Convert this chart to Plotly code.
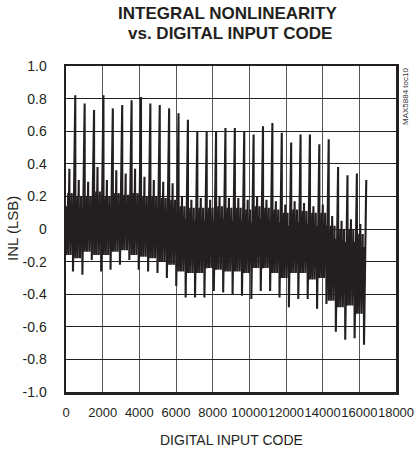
import plotly.graph_objects as go

# ---------------- data ----------------
TITLE_LINES = ["INTEGRAL NONLINEARITY", "vs. DIGITAL INPUT CODE"]
X_TICKS = [0, 2000, 4000, 6000, 8000, 10000, 12000, 14000, 16000, 18000]
Y_TICKS = [-1.0, -0.8, -0.6, -0.4, -0.2, 0.0, 0.2, 0.4, 0.6, 0.8, 1.0]
Y_TICK_LABELS = ["-1.0", "-0.8", "-0.6", "-0.4", "-0.2", "0", "0.2", "0.4", "0.6", "0.8", "1.0"]

SEGMENT_CODES = 512          # one major sawtooth period (32 periods over 16384 codes)

# tall spike at the end of each period
PEAK = [0.82, 0.77, 0.73, 0.82, 0.74, 0.76, 0.79, 0.81, 0.77, 0.76, 0.74, 0.71,
        0.67, 0.60, 0.60, 0.60, 0.62, 0.62, 0.60, 0.58, 0.63, 0.65, 0.59, 0.53,
        0.58, 0.58, 0.52, 0.55, 0.38, 0.33, 0.34, 0.30]
# deepest point of each period (foot of the tall spike)
TROUGH = [-0.26, -0.28, -0.19, -0.26, -0.25, -0.22, -0.19, -0.25, -0.26, -0.27, -0.30, -0.35,
          -0.42, -0.42, -0.42, -0.38, -0.39, -0.40, -0.41, -0.43, -0.38, -0.38, -0.42, -0.48,
          -0.43, -0.43, -0.49, -0.46, -0.63, -0.68, -0.67, -0.71]
# secondary spike in each period
MID = [0.37, 0.30, 0.29, 0.38, 0.30, 0.36, 0.34, 0.37, 0.32, 0.30, 0.29, 0.28,
       0.20, 0.18, 0.19, 0.18, 0.20, 0.19, 0.19, 0.18, 0.20, 0.18, 0.17, 0.15,
       0.17, 0.16, 0.14, 0.15, 0.08, 0.05, 0.06, 0.03]
# upper / lower edge of the dense band of minor teeth
BAND_HI = [0.22, 0.20, 0.20, 0.23, 0.20, 0.22, 0.21, 0.22, 0.20, 0.20, 0.19, 0.18,
           0.14, 0.13, 0.13, 0.13, 0.14, 0.13, 0.13, 0.12, 0.14, 0.13, 0.12, 0.10,
           0.12, 0.11, 0.10, 0.10, 0.02, 0.00, 0.00, -0.03]
BAND_LO = [-0.16, -0.18, -0.14, -0.16, -0.16, -0.14, -0.13, -0.16, -0.17, -0.18, -0.20, -0.22,
           -0.26, -0.27, -0.27, -0.24, -0.25, -0.26, -0.26, -0.27, -0.24, -0.24, -0.27, -0.30,
           -0.27, -0.27, -0.31, -0.30, -0.44, -0.48, -0.47, -0.52]
# smaller inner teeth sit inside the band edges
INNER_HI_DROP = 0.08
INNER_LO_RISE = 0.09

# turning points inside one period: (code offset, which level)
PERIOD_SHAPE = [(0, "lo"), (56, "hi2"), (60, "lo2"), (120, "hi"), (124, "lo"),
                (184, "mid"), (188, "lo2"), (248, "hi2"), (252, "lo"), (312, "hi"),
                (316, "lo2"), (376, "hi2"), (382, "trough"), (506, "peak")]

# ---------------- build polyline from the read values ----------------
codes, inl = [], []
for k in range(len(PEAK)):
    base = k * SEGMENT_CODES
    levels = {"lo": BAND_LO[k], "hi": BAND_HI[k], "mid": MID[k],
              "lo2": BAND_LO[k] + INNER_LO_RISE, "hi2": BAND_HI[k] - INNER_HI_DROP,
              "trough": TROUGH[k], "peak": PEAK[k]}
    for off, lvl in PERIOD_SHAPE:
        codes.append(base + off)
        inl.append(levels[lvl])

FONT = "Liberation Sans, Arial, sans-serif"
INK = "#231f20"

fig = go.Figure()
fig.add_trace(go.Scatter(x=codes, y=inl, mode="lines",
                         line=dict(color=INK, width=2.1), hoverinfo="skip",
                         showlegend=False))

L, R, T, B = 66, 19, 66, 64
W, H = 415, 456
pw, ph = W - L - R, H - T - B

def px(xp):
    return (xp - L) / pw

def py(yp):
    return (H - B - yp) / ph

fig.update_layout(
    width=W, height=H,
    margin=dict(l=L, r=R, t=T, b=B, autoexpand=False),
    paper_bgcolor="white", plot_bgcolor="white",
    font=dict(family=FONT, size=14, color=INK),
    showlegend=False,
)
fig.update_xaxes(range=[0, 18000], tickmode="array", tickvals=X_TICKS,
                 ticktext=[str(v) for v in X_TICKS], tickangle=0, automargin=False,
                 showgrid=True, gridcolor="#555", gridwidth=1,
                 showline=True, linecolor=INK, linewidth=2.5, mirror=True,
                 ticks="", zeroline=False, ticklabelstandoff=7,
                 tickfont=dict(family=FONT, size=13, color=INK))
fig.update_yaxes(range=[-1, 1], tickmode="array", tickvals=Y_TICKS,
                 ticktext=Y_TICK_LABELS, automargin=False,
                 showgrid=True, gridcolor=INK, gridwidth=1,
                 showline=True, linecolor=INK, linewidth=2.5, mirror=True,
                 ticks="", zeroline=False, ticklabelstandoff=14,
                 tickfont=dict(family=FONT, size=14, color=INK))

ann = []
ann.append(dict(text="<b>" + TITLE_LINES[0] + "</b>", x=px(227), y=py(13),
                xref="paper", yref="paper", showarrow=False,
                xanchor="center", yanchor="middle",
                font=dict(family=FONT, size=17, color=INK)))
ann.append(dict(text="<b>" + TITLE_LINES[1] + "</b>", x=px(230), y=py(34),
                xref="paper", yref="paper", showarrow=False,
                xanchor="center", yanchor="middle",
                font=dict(family=FONT, size=17, color=INK)))
ann.append(dict(text="DIGITAL INPUT CODE", x=px(231), y=py(440),
                xref="paper", yref="paper", showarrow=False,
                xanchor="center", yanchor="middle",
                font=dict(family=FONT, size=14, color=INK)))
ann.append(dict(text="INL (LSB)", x=px(12), y=py(229), textangle=-90,
                xref="paper", yref="paper", showarrow=False,
                xanchor="center", yanchor="middle",
                font=dict(family=FONT, size=15, color=INK)))
ann.append(dict(text="MAX5884 toc10", x=px(405), y=py(97), textangle=-90,
                xref="paper", yref="paper", showarrow=False,
                xanchor="center", yanchor="middle",
                font=dict(family=FONT, size=8, color="#333")))
fig.update_layout(annotations=ann)

fig.write_html("out.html", config={"displayModeBar": False, "staticPlot": True},
               post_script="document.body.style.margin='0px';")
